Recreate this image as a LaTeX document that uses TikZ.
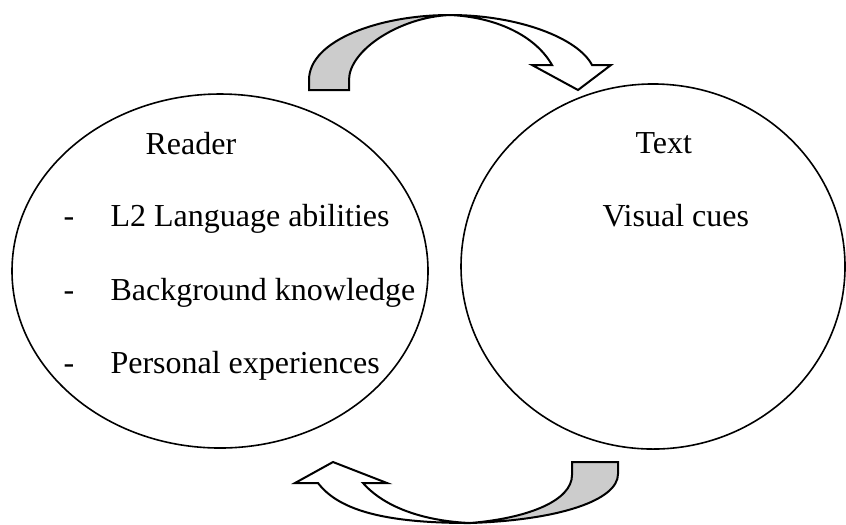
\documentclass[tikz,border=0pt]{standalone}
\usepackage{fontspec}
\setmainfont{Liberation Serif}
\usetikzlibrary{shapes.geometric}
\tikzset{
  circ/.style={ellipse, draw, line width=0.6pt, inner sep=0pt},
  lbl/.style={anchor=base west, inner sep=0pt, font=\fontsize{12}{14}\selectfont},
  arrowshape/.style={draw, line width=0.75pt, line join=miter},
  shade/.style={arrowshape, fill=black!20},
}
\begin{document}
\begin{tikzpicture}[x=0.375pt, y=-0.375pt]
\useasboundingbox (0,0) rectangle (846,524);
% ellipses
\node[circ, minimum width=156pt, minimum height=132.75pt] (reader) at (220,271) {};
\node[circ, minimum width=144pt, minimum height=136.9pt] (text) at (653,266.5) {};
% labels
\node[lbl] (rd) at (145,154) {Reader};
\node[lbl] (d1) at (63,226) {-};
\node[lbl] (d2) at (63,300) {-};
\node[lbl] (d3) at (63,373) {-};
\node[lbl] (i1) at (110,226) {L2 Language abilities};
\node[lbl] (i2) at (110,300) {Background knowledge};
\node[lbl] (i3) at (110,373) {Personal experiences};
\node[lbl] (tx) at (635,153) {Text};
\node[lbl] (vc) at (602,226) {Visual cues};
% top curved arrow
\path[shade] (309,90) -- (309,80) .. controls (309,40) and (380,15) .. (450,15)
  .. controls (400,17) and (349,50) .. (349,80) -- (349,90) -- cycle;
\path[arrowshape, fill=white] (450,15) .. controls (518,15) and (578,38) .. (592,65)
  -- (611,65) -- (578,90) -- (532,65) -- (552,65)
  .. controls (535,35) and (495,17) .. (450,15) -- cycle;
% bottom curved arrow
\path[shade] (470,523) .. controls (560,520) and (618,500) .. (618,474) -- (618,462)
  -- (572,462) -- (572,475) .. controls (572,500) and (530,518) .. (470,523) -- cycle;
\path[arrowshape, fill=white] (295,483) -- (333,462) -- (387,483) -- (363,483)
  .. controls (385,508) and (425,521) .. (470,523)
  .. controls (390,523) and (340,512) .. (318,483) -- cycle;
\end{tikzpicture}
\end{document}
